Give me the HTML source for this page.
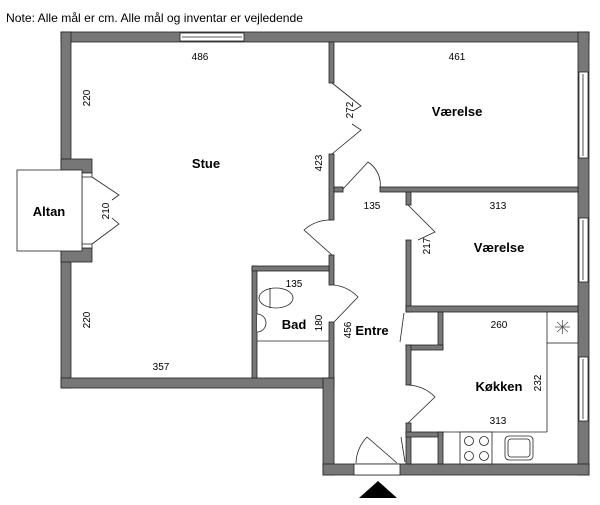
<!DOCTYPE html>
<html><head><meta charset="utf-8"><style>
html,body{margin:0;padding:0;background:#fff;}
svg{display:block;}
text{font-family:"Liberation Sans",sans-serif;fill:#000;}
.d{font-size:10px;}
.b{font-size:13px;font-weight:bold;}
</style></head><body>
<svg width="600" height="505" viewBox="0 0 600 505">
<text x="6" y="22" font-size="12" textLength="297" lengthAdjust="spacingAndGlyphs">Note: Alle mål er cm. Alle mål og inventar er vejledende</text>
<g fill="#777" stroke="#222" stroke-width="0.8">
<rect x="61" y="32" width="528" height="10"/>
<rect x="61" y="32" width="10" height="356"/>
<rect x="61" y="159" width="31" height="14"/>
<rect x="61" y="248" width="31" height="14"/>
<rect x="578" y="32" width="11" height="443"/>
<rect x="61" y="378" width="273" height="10"/>
<rect x="323" y="378" width="11" height="97"/>
<rect x="323" y="464" width="266" height="11"/>
<rect x="329" y="42" width="5" height="41"/>
<rect x="329" y="154" width="5" height="66"/>
<rect x="334" y="187" width="9" height="5"/>
<rect x="329" y="255" width="5" height="30"/>
<rect x="329" y="322" width="5" height="56"/>
<rect x="380" y="187" width="198" height="5"/>
<rect x="406" y="192" width="5" height="13"/>
<rect x="406" y="240" width="5" height="72"/>
<rect x="406" y="306" width="172" height="6"/>
<rect x="438" y="312" width="5" height="37"/>
<rect x="406" y="345" width="37" height="5"/>
<rect x="406" y="345" width="5" height="40"/>
<rect x="406" y="423" width="5" height="41"/>
<rect x="406" y="432" width="37" height="5"/>
<rect x="438" y="432" width="5" height="32"/>
<rect x="252" y="266" width="5" height="112"/>
<rect x="252" y="266" width="77" height="5"/>
</g>
<g fill="#fff" stroke="#222" stroke-width="0.8">
<rect x="180" y="33" width="64" height="8"/><line x1="182" y1="37" x2="242" y2="37"/>
<rect x="579" y="72" width="9" height="86"/><line x1="583" y1="74" x2="583" y2="156"/>
<rect x="579" y="218" width="9" height="64"/><line x1="583" y1="220" x2="583" y2="280"/>
<rect x="579" y="357" width="9" height="64"/><line x1="583" y1="359" x2="583" y2="419"/>
<rect x="354" y="464" width="46" height="11"/>
<rect x="82" y="173" width="10" height="4"/><rect x="82" y="244" width="10" height="4"/>
<line x1="82" y1="177" x2="82" y2="244"/>
<rect x="17" y="170" width="65" height="81"/>
<rect x="547" y="312" width="31" height="31"/>
<line x1="547" y1="343" x2="547" y2="432"/>
<line x1="443" y1="432" x2="547" y2="432"/>
<rect x="460" y="432" width="32" height="32"/>
<circle cx="469" cy="441" r="4.5"/><circle cx="484" cy="441" r="4.5"/>
<circle cx="469" cy="456" r="4.5"/><circle cx="484" cy="456" r="4.5"/>
<rect x="505" y="436" width="28" height="24" rx="4"/>
<rect x="508" y="439" width="22" height="18" rx="3"/>
<line x1="257" y1="341" x2="329" y2="341"/>
<ellipse cx="276" cy="298" rx="17" ry="10"/>
<line x1="270" y1="288" x2="270" y2="308"/>
<path d="M257,315 A8,8 0 0 1 257,331 Z"/>
<path d="M257,314 A9,9 0 1 1 257,332"/>
</g>
<g stroke="#555" stroke-width="0.8">
<line x1="555" y1="327" x2="570" y2="327"/><line x1="562.5" y1="320" x2="562.5" y2="334"/>
<line x1="557" y1="322" x2="568" y2="332"/><line x1="568" y1="322" x2="557" y2="332"/>
</g>
<g fill="none" stroke="#222" stroke-width="0.8">
<polyline points="92,177 119,195 112,200"/>
<polyline points="92,244 119,224 112,218"/>
<polyline points="332,83 361,106 353,111"/>
<polyline points="332,154 361,130 352,124"/>
<path d="M343,189 L368,162 A27,27 0 0 1 380,189"/>
<path d="M332,220 A40,40 0 0 0 304,230 L332,255"/>
<path d="M334,285 A40,40 0 0 1 358,297 L334,322"/>
<polyline points="408,205 435,232 418,240"/>
<path d="M408,385 A40,40 0 0 1 435,397 L408,423"/>
<path d="M356,463 A40,40 0 0 1 367,437 L397,463"/>
<line x1="404" y1="313" x2="400" y2="342"/>
<line x1="401" y1="437" x2="405" y2="462"/>
</g>
<polygon points="359,498 397,498 378,481" fill="#000"/>
<g class="d" text-anchor="middle">
<text x="200" y="60">486</text>
<text x="457" y="60">461</text>
<text x="161" y="370">357</text>
<text x="372" y="209">135</text>
<text x="498" y="209">313</text>
<text x="294" y="287">135</text>
<text x="499" y="328">260</text>
<text x="498" y="424">313</text>
<text transform="translate(90,98) rotate(-90)">220</text>
<text transform="translate(90,320) rotate(-90)">220</text>
<text transform="translate(109,211) rotate(-90)">210</text>
<text transform="translate(322,163) rotate(-90)">423</text>
<text transform="translate(353,110) rotate(-90)">272</text>
<text transform="translate(430,246) rotate(-90)">217</text>
<text transform="translate(322,323) rotate(-90)">180</text>
<text transform="translate(351,330) rotate(-90)">456</text>
<text transform="translate(541,383) rotate(-90)">232</text>
</g>
<g class="b" text-anchor="middle">
<text x="206" y="168">Stue</text>
<text x="457" y="116">Værelse</text>
<text x="49" y="216">Altan</text>
<text x="499" y="252">Værelse</text>
<text x="294" y="329">Bad</text>
<text x="372" y="335">Entre</text>
<text x="499" y="391">Køkken</text>
</g>
</svg>
</body></html>
